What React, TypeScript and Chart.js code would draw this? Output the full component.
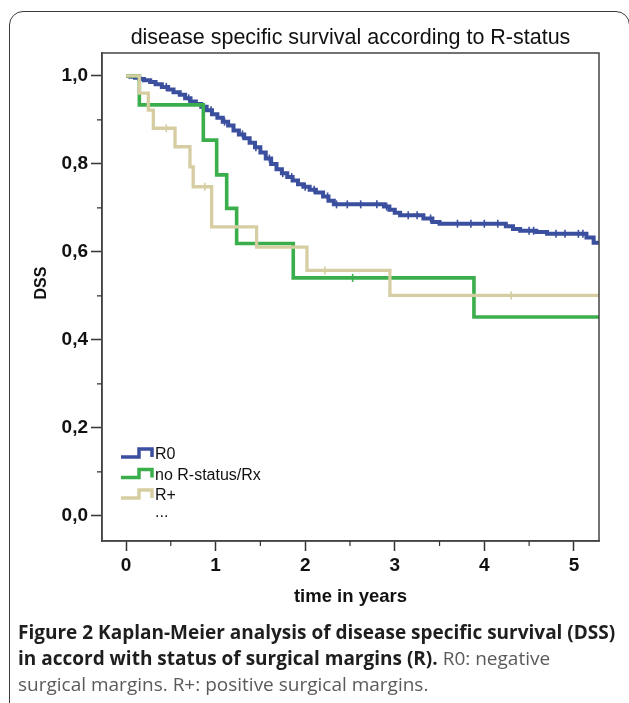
import React, { useEffect, useRef } from "react";
import { Chart, registerables } from "chart.js";

Chart.register(...registerables);

const TITLE = "disease specific survival according to R-status";
const X_TITLE = "time in years";
const Y_TITLE = "DSS";
const X_TICKS = [0, 1, 2, 3, 4, 5];
const Y_TICKS = [0, 0.2, 0.4, 0.6, 0.8, 1.0];
const X_MINOR = [0.5, 1.5, 2.5, 3.5, 4.5];
const Y_MINOR = [0.1, 0.3, 0.5, 0.7, 0.9];
const LEGEND_LABELS = ["R0", "no R-status/Rx", "R+", "..."];

// R0
const R0_TIMES = [0, 0.05, 0.1, 0.15, 0.2, 0.27, 0.33, 0.4, 0.47, 0.53, 0.6, 0.66, 0.72, 0.78, 0.84, 0.9, 0.96, 1.02, 1.08, 1.14, 1.2, 1.26, 1.32, 1.38, 1.44, 1.5, 1.56, 1.62, 1.68, 1.74, 1.8, 1.86, 1.92, 1.98, 2.05, 2.12, 2.2, 2.26, 2.32, 2.88, 2.94, 3.0, 3.06, 3.32, 3.42, 3.5, 4.24, 4.32, 4.4, 4.58, 4.7, 5.14, 5.22, 5.28];
const R0_SURV = [1.0, 0.998, 0.996, 0.993, 0.99, 0.986, 0.981, 0.975, 0.969, 0.963, 0.957, 0.949, 0.942, 0.936, 0.93, 0.922, 0.913, 0.905, 0.896, 0.887, 0.876, 0.867, 0.858, 0.848, 0.838, 0.826, 0.812, 0.8, 0.788, 0.779, 0.77, 0.762, 0.754, 0.748, 0.741, 0.735, 0.726, 0.716, 0.708, 0.703, 0.696, 0.689, 0.683, 0.676, 0.668, 0.664, 0.658, 0.652, 0.648, 0.645, 0.641, 0.633, 0.621, 0.621];
const R0_CENSOR = [0.45, 0.7, 0.95, 1.1, 1.3, 1.45, 1.6, 1.75, 1.85, 2.0, 2.1, 2.25, 2.35, 2.47, 2.62, 2.8, 2.91, 3.15, 3.25, 3.4, 3.7, 3.85, 4.0, 4.15, 4.5, 4.55, 4.8, 4.9, 5.05, 5.1];

// no R-status / Rx
const RX_TIMES = [0, 0.149, 0.863, 1.012, 1.124, 1.235, 1.867, 3.884, 5.28];
const RX_SURV = [1.0, 0.934, 0.854, 0.775, 0.699, 0.619, 0.541, 0.452, 0.452];
const RX_CENSOR = [2.53];

// R+
const RP_TIMES = [0, 0.149, 0.249, 0.305, 0.547, 0.714, 0.75, 0.956, 1.458, 2.02, 2.946, 5.28];
const RP_SURV = [1.0, 0.961, 0.922, 0.881, 0.839, 0.793, 0.748, 0.657, 0.611, 0.558, 0.501, 0.501];
const RP_CENSOR = [0.45, 0.88, 2.22, 4.3];

const COLORS = ["#3b4f9f", "#3bae4c", "#d6cea2"];
const FONT = "Arial, 'Liberation Sans', sans-serif";

function stepAt(times: number[], surv: number[], t: number): number {
  let v = surv[0];
  for (let i = 0; i < times.length; i++) {
    if (times[i] <= t) v = surv[i];
  }
  return v;
}

function curve(times: number[], surv: number[]) {
  return times.map((t, i) => ({ x: t, y: surv[i] }));
}
function censor(times: number[], surv: number[], c: number[]) {
  return c.map((t) => ({ x: t, y: stepAt(times, surv, t) }));
}

const overlayPlugin = {
  id: "kmOverlay",
  afterDraw(chart: any) {
    const { ctx, chartArea, scales } = chart;
    const x = scales.x;
    const y = scales.y;
    ctx.save();
    // plot frame
    ctx.strokeStyle = "#444";
    ctx.lineWidth = 1.5;
    ctx.strokeRect(chartArea.left, chartArea.top, chartArea.right - chartArea.left, chartArea.bottom - chartArea.top);
    // minor ticks
    ctx.strokeStyle = "#333";
    ctx.lineWidth = 1.2;
    ctx.beginPath();
    X_MINOR.forEach((v) => {
      const px = x.getPixelForValue(v);
      ctx.moveTo(px, chartArea.bottom);
      ctx.lineTo(px, chartArea.bottom + 5);
    });
    Y_MINOR.forEach((v) => {
      const py = y.getPixelForValue(v);
      ctx.moveTo(chartArea.left, py);
      ctx.lineTo(chartArea.left - 5, py);
    });
    ctx.stroke();
    // y title
    ctx.fillStyle = "#111";
    ctx.font = `bold 16px ${FONT}`;
    ctx.textAlign = "center";
    ctx.textBaseline = "middle";
    ctx.translate(42, 283);
    ctx.rotate(-Math.PI / 2);
    ctx.fillText(Y_TITLE, 0, 0);
    ctx.setTransform(chart.currentDevicePixelRatio, 0, 0, chart.currentDevicePixelRatio, 0, 0);
    // legend
    ctx.font = `16px ${FONT}`;
    ctx.textAlign = "left";
    LEGEND_LABELS.forEach((lab, i) => {
      const cy = 455 + i * 20.5;
      if (i < COLORS.length) {
        ctx.strokeStyle = COLORS[i];
        ctx.lineWidth = 3.5;
        ctx.beginPath();
        ctx.moveTo(121, cy + 2);
        ctx.lineTo(139, cy + 2);
        ctx.lineTo(139, cy - 6);
        ctx.lineTo(152, cy - 6);
        ctx.lineTo(152, cy + 2);
        ctx.stroke();
      }
      ctx.fillStyle = "#111";
      ctx.fillText(lab, 155, i === 3 ? cy - 4 : cy);
    });
    ctx.restore();
  },
};

export default function App() {
  const ref = useRef<HTMLCanvasElement | null>(null);

  useEffect(() => {
    if (!ref.current) return;
    const lineDs = (label: string, t: number[], s: number[], color: string, order: number, w: number) => ({
      type: "line" as const,
      label,
      data: curve(t, s),
      stepped: "before" as const,
      borderColor: color,
      backgroundColor: color,
      borderWidth: w,
      pointRadius: 0,
      fill: false,
      order,
    });
    const censDs = (label: string, t: number[], s: number[], c: number[], color: string, order: number) => ({
      type: "line" as const,
      label,
      data: censor(t, s, c),
      showLine: false,
      pointStyle: "line" as const,
      rotation: 90,
      pointRadius: 4,
      borderColor: color,
      backgroundColor: color,
      pointBorderWidth: 1.6,
      order,
    });
    const chart = new Chart(ref.current, {
      type: "line",
      data: {
        datasets: [
          lineDs("R0", R0_TIMES, R0_SURV, COLORS[0], 6, 4),
          censDs("R0 censored", R0_TIMES, R0_SURV, R0_CENSOR, COLORS[0], 5),
          lineDs("no R-status/Rx", RX_TIMES, RX_SURV, COLORS[1], 4, 3.6),
          censDs("Rx censored", RX_TIMES, RX_SURV, RX_CENSOR, COLORS[1], 3),
          lineDs("R+", RP_TIMES, RP_SURV, COLORS[2], 2, 3.3),
          censDs("R+ censored", RP_TIMES, RP_SURV, RP_CENSOR, COLORS[2], 1),
        ] as any,
      },
      options: {
        animation: false,
        responsive: false,
        devicePixelRatio: 1,
        layout: { padding: { left: 0, right: 30, top: 0, bottom: 0 } },
        plugins: {
          legend: { display: false },
          tooltip: { enabled: false },
          title: {
            display: true,
            fullSize: false,
            text: TITLE,
            color: "#111",
            font: { family: FONT, size: 21.5, weight: "normal" as any, lineHeight: 1.2 },
            padding: { top: 25, bottom: 2.2 },
          },
        },
        scales: {
          x: {
            type: "linear",
            min: -0.268,
            max: 5.28,
            afterBuildTicks: (s: any) => {
              s.ticks = X_TICKS.map((v) => ({ value: v }));
            },
            afterFit: (s: any) => {
              s.height = 80;
            },
            grid: { display: true, drawOnChartArea: false, drawTicks: true, tickLength: 10, tickColor: "#333", tickWidth: 1.5 },
            border: { display: true, color: "#444", width: 1.5 },
            ticks: {
              color: "#111",
              padding: 3,
              maxRotation: 0,
              autoSkip: false,
              font: { family: FONT, size: 19, weight: "bold" as any },
            },
            title: {
              display: true,
              text: X_TITLE,
              color: "#111",
              font: { family: FONT, size: 18.5, weight: "bold" as any, lineHeight: 1.2 },
              padding: { top: 4, bottom: 13 },
            },
          },
          y: {
            type: "linear",
            min: -0.057,
            max: 1.052,
            afterBuildTicks: (s: any) => {
              s.ticks = Y_TICKS.map((v) => ({ value: v }));
            },
            afterFit: (s: any) => {
              s.width = 102;
            },
            grid: { display: true, drawOnChartArea: false, drawTicks: true, tickLength: 11, tickColor: "#333", tickWidth: 1.5 },
            border: { display: true, color: "#444", width: 1.5 },
            ticks: {
              color: "#111",
              padding: 3,
              autoSkip: false,
              font: { family: FONT, size: 19, weight: "bold" as any },
              callback: (v: any) => Number(v).toFixed(1).replace(".", ","),
            },
          },
        },
      },
      plugins: [overlayPlugin],
    });
    return () => chart.destroy();
  }, []);

  const bold: React.CSSProperties = { fontWeight: 700, color: "#1e1e1e" };
  const grey: React.CSSProperties = { fontWeight: 400, color: "#5a5a5a" };

  return (
    <div style={{ position: "absolute", left: 0, top: 0, width: 629, height: 703, overflow: "hidden", background: "#fff" }}>
      <div
        style={{
          position: "absolute",
          left: 9,
          top: 11,
          width: 621,
          height: 760,
          border: "1.5px solid #3a3a3a",
          borderRadius: 14,
          boxSizing: "border-box",
        }}
      />
      <canvas ref={ref} width={629} height={621} style={{ position: "absolute", left: 0, top: 0, width: 629, height: 621 }} />
      <div
        style={{
          position: "absolute",
          left: 18,
          top: 619,
          fontFamily: "'Open Sans', sans-serif",
          fontSize: 19,
          lineHeight: "26px",
          whiteSpace: "nowrap",
        }}
      >
        <div>
          <span style={bold}>Figure 2 Kaplan-Meier analysis of disease specific survival (DSS)</span>
        </div>
        <div>
          <span style={bold}>in accord with status of surgical margins (R).</span> <span style={grey}>R0: negative</span>
        </div>
        <div>
          <span style={grey}>surgical margins. R+: positive surgical margins.</span>
        </div>
      </div>
    </div>
  );
}
